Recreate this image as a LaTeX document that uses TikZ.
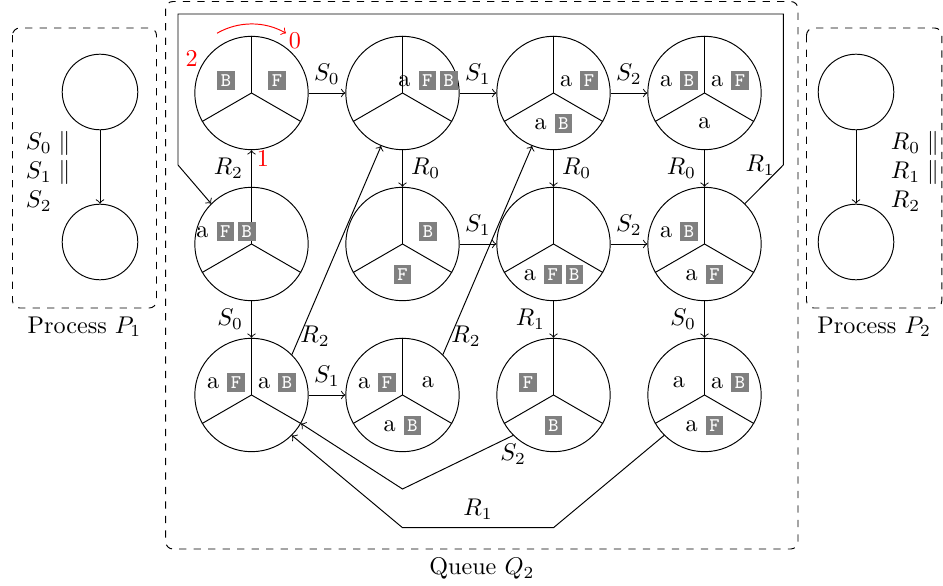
\documentclass[tikz,border=0pt]{standalone}
\usetikzlibrary{calc}
% grey token boxes with white typewriter letters
\newcommand{\gb}[1]{{\setlength{\fboxsep}{1.5pt}\colorbox{gray}{\color{white}\footnotesize\ttfamily #1}}}
% three spokes splitting a state into sectors 0 (right), 1 (bottom), 2 (left)
\newcommand{\spokes}[1]{\draw (#1.center) -- (#1.90) (#1.center) -- (#1.210) (#1.center) -- (#1.330);}
\newcommand{\putL}[2]{\node[tok] (#1l) at ($(#1)+(-25.5,-12.3)$) {#2};}
\newcommand{\putR}[2]{\node[tok] (#1r) at ($(#1)+(25.5,-12.3)$) {#2};}
\newcommand{\putB}[2]{\node[tok] (#1b) at ($(#1)+(0,30.5)$) {#2};}

\begin{document}
\begin{tikzpicture}[x=0.4141pt, y=-0.4141pt, >=to,
  state/.style={circle, draw, inner sep=0pt, minimum size=46.96pt},
  proc/.style={circle, draw, inner sep=0pt, minimum size=31.3pt},
  tok/.style={inner sep=0pt},
  frame/.style={draw, dashed, rounded corners=3pt},
  redlbl/.style={text=red, inner sep=0pt}]
\useasboundingbox (0,0) rectangle (943,586);

% ---------- frames ----------
\draw[frame] (12.5,28) rectangle (156.5,308);
\node[below] (p1lbl) at (84.5,308) {Process $P_1$};
\draw[frame] (806.5,28) rectangle (941.8,308);
\node[below] (p2lbl) at (874.1,308) {Process $P_2$};
\draw[frame] (165.7,1.5) rectangle (798,549);
\node[below] (q2lbl) at (481.9,549) {Queue $Q_2$};

% ---------- processes ----------
\node[proc] (p1a) at (100,92) {};
\node[proc] (p1b) at (100,242) {};
\draw[->] (p1a) -- (p1b);
\node[anchor=west, inner sep=0pt, align=left] (p1txt) at (25.5,171.5)
  {$S_0 \parallel$\\$S_1 \parallel$\\$S_2$};
\node[proc] (p2a) at (856,92) {};
\node[proc] (p2b) at (856,242) {};
\draw[->] (p2a) -- (p2b);
\node[anchor=west, inner sep=0pt, align=left] (p2txt) at (890.5,171.5)
  {$R_0 \parallel$\\$R_1 \parallel$\\$R_2$};

% ---------- queue states ----------
\node[state] (A) at (251.5,93) {};
\node[state] (B) at (402.5,93) {};
\node[state] (C) at (553.5,93) {};
\node[state] (D) at (704.5,93) {};
\node[state] (E) at (251.5,244) {};
\node[state] (F) at (402.5,244) {};
\node[state] (G) at (553.5,244) {};
\node[state] (H) at (704.5,244) {};
\node[state] (I) at (251.5,395) {};
\node[state] (J) at (402.5,395) {};
\node[state] (K) at (553.5,395) {};
\node[state] (L) at (704.5,395) {};
\foreach \s in {A,B,C,D,E,F,G,H,I,J,K,L} {\spokes{\s}}

\putL{A}{\gb{B}} \putR{A}{\gb{F}}
\putR{B}{a \gb{F}\,\gb{B}}
\putR{C}{a \gb{F}} \putB{C}{a \gb{B}}
\putL{D}{a \gb{B}} \putR{D}{a \gb{F}} \putB{D}{a}
\putL{E}{a \gb{F}\,\gb{B}}
\putR{F}{\gb{B}} \putB{F}{\gb{F}}
\putB{G}{a \gb{F}\,\gb{B}}
\putL{H}{a \gb{B}} \putB{H}{a \gb{F}}
\putL{I}{a \gb{F}} \putR{I}{a \gb{B}}
\putL{J}{a \gb{F}} \putR{J}{a} \putB{J}{a \gb{B}}
\putL{K}{\gb{F}} \putB{K}{\gb{B}}
\putL{L}{a} \putR{L}{a \gb{B}} \putB{L}{a \gb{F}}

% sector numbering of the first state
\draw[red, ->] ($(A)+(-120:69)$) arc[start angle=-120, end angle=-60, radius=69];
\node[redlbl] (n0) at (295,40.7) {0};
\node[redlbl] (n1) at (263,158) {1};
\node[redlbl] (n2) at (191.7,58.3) {2};

% ---------- transitions ----------
\draw[->] (A) -- node[above] {$S_0$} (B);
\draw[->] (B) -- node[above] {$S_1$} (C);
\draw[->] (C) -- node[above] {$S_2$} (D);
\draw[->] (F) -- node[above] {$S_1$} (G);
\draw[->] (G) -- node[above] {$S_2$} (H);
\draw[->] (I) -- node[above] {$S_1$} (J);
\draw[->] (E) -- node[left] {$R_2$} (A);
\draw[->] (B) -- node[right] {$R_0$} (F);
\draw[->] (C) -- node[right] {$R_0$} (G);
\draw[->] (D) -- node[left] {$R_0$} (H);
\draw[->] (E) -- node[left] {$S_0$} (I);
\draw[->] (G) -- node[left] {$R_1$} (K);
\draw[->] (H) -- node[left] {$S_0$} (L);
\draw[->] (I.45) -- node[at start, above right] {$R_2$} (B.248);
\draw[->] (J.45) -- node[at start, above right] {$R_2$} (C.248);

\coordinate (s2v) at (402.5,489);
\draw[->] (K.south west) -- node[at start, below] {$S_2$} (s2v) -- (I.330);

\coordinate (r1a) at (553.5,527.7);
\coordinate (r1b) at (402.5,527.7);
\draw[->] (L.south west) -- (r1a) -- node[above] {$R_1$} (r1b) -- (I.south east);

\coordinate (lp1) at (783.3,165);
\coordinate (lp2) at (783.3,14);
\coordinate (lp3) at (178,14);
\coordinate (lp4) at (178,165);
\draw[->] (H.north east) -- (lp1) node[left] {$R_1$} -- (lp2) -- (lp3) -- (lp4) -- (E.north west);
\end{tikzpicture}
\end{document}
